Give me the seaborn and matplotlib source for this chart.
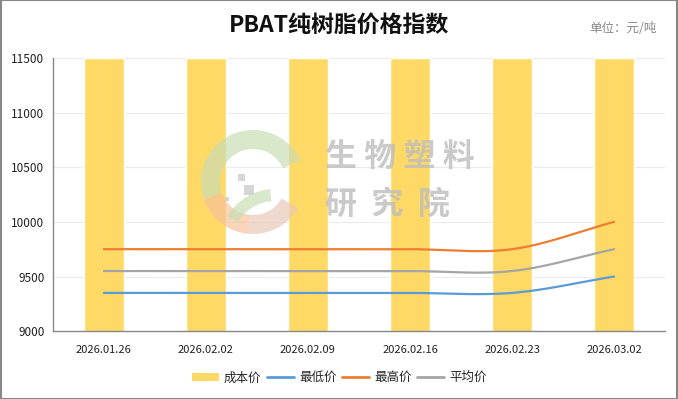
import numpy as np
import pandas as pd
import matplotlib
matplotlib.use("Agg")
import matplotlib.pyplot as plt
import seaborn as sns
from matplotlib.patches import Rectangle, Wedge, Patch
from matplotlib.lines import Line2D

sns.set_theme(style="white")
plt.rcParams['font.family'] = ['Noto Sans CJK SC', 'DejaVu Sans']

dates = ['2026.01.26', '2026.02.02', '2026.02.09', '2026.02.16', '2026.02.23', '2026.03.02']
cost_price = [11500, 11500, 11500, 11500, 11500, 11500]
low_price = [9350, 9350, 9350, 9350, 9350, 9500]
high_price = [9750, 9750, 9750, 9750, 9750, 10000]
avg_price = [9550, 9550, 9550, 9550, 9550, 9750]

bar_color = '#FFD966'
line_colors = {'最低价': '#5B9BD5', '最高价': '#ED7D31', '平均价': '#A5A5A5'}


def smooth(y, n=40):
    # cubic hermite (catmull-rom) through the points, like a smoothed line
    y = np.asarray(y, dtype=float)
    x = np.arange(len(y))
    m = np.gradient(y)
    xs, ys = [], []
    for i in range(len(y) - 1):
        t = np.linspace(0, 1, n)
        h00 = 2 * t**3 - 3 * t**2 + 1
        h10 = t**3 - 2 * t**2 + t
        h01 = -2 * t**3 + 3 * t**2
        h11 = t**3 - t**2
        xs.append(x[i] + t)
        ys.append(h00 * y[i] + h10 * m[i] + h01 * y[i + 1] + h11 * m[i + 1])
    return np.concatenate(xs), np.concatenate(ys)


df = pd.DataFrame({'日期': dates, '成本价': cost_price})

fig = plt.figure(figsize=(6.78, 3.99), dpi=100)
ax = fig.add_axes([0.078, 0.170, 0.903, 0.685])

sns.barplot(data=df, x='日期', y='成本价', color=bar_color, width=0.39,
            saturation=1, ax=ax, zorder=2)

for name, vals in [('最低价', low_price), ('最高价', high_price), ('平均价', avg_price)]:
    xs, ys = smooth(vals)
    ax.plot(xs, ys, color=line_colors[name], linewidth=1.6, zorder=4)

ax.set_ylim(9000, 11500)
ax.set_xlim(-0.5, len(dates) - 0.5)
ax.set_yticks(np.arange(9000, 11501, 500))
ax.set_xlabel('')
ax.set_ylabel('')
ax.yaxis.grid(True, color='#EBEBEB', linewidth=0.8, zorder=0)
ax.set_axisbelow(True)

ax.set_xticks(np.arange(len(dates)))
ax.set_xticklabels(dates, fontsize=8)
ax.set_xticks(np.arange(-0.5, len(dates)), minor=True)
ax.tick_params(axis='x', which='major', length=0, pad=10)
ax.tick_params(axis='x', which='minor', length=4, color='#888888', direction='out')
ax.tick_params(axis='y', length=4, color='#888888', direction='out', labelsize=8.5, pad=2)
for lab in ax.get_xticklabels() + ax.get_yticklabels():
    lab.set_color('#222222')

for side in ['top', 'right']:
    ax.spines[side].set_visible(False)
for side in ['left', 'bottom']:
    ax.spines[side].set_color('#888888')
    ax.spines[side].set_linewidth(1)

# watermark (logo ring + text), positions in inches
inch = fig.dpi_scale_trans
logo_c = (2.53, 2.17)
for t1, t2, col in [(25, 200, '#C9DDB4'), (200, 265, '#F6C29A'), (265, 330, '#E9C8B8')]:
    fig.patches.append(Wedge(logo_c, 0.52, t1, t2, width=0.19, transform=inch,
                             facecolor=col, edgecolor='none', alpha=0.7, zorder=3))
fig.patches.append(Wedge((2.75, 1.55), 0.55, 95, 150, width=0.12, transform=inch,
                         facecolor='#C9DDB4', edgecolor='none', alpha=0.7, zorder=3))
for (sx, sy, s) in [(2.38, 2.18, 0.07), (2.44, 2.04, 0.1), (2.25, 1.98, 0.04)]:
    fig.patches.append(Rectangle((sx, sy), s, s, transform=inch,
                                 facecolor='#CCCCCC', edgecolor='none', alpha=0.8, zorder=3))
fig.text(3.25 / 6.78, 1 - 1.57 / 3.99, '生 物 塑 料', fontsize=23, fontweight='bold',
         color='#BDBDBD', alpha=0.8, ha='left', va='center', zorder=3)
fig.text(3.25 / 6.78, 1 - 2.05 / 3.99, '研  究  院', fontsize=23, fontweight='bold',
         color='#BDBDBD', alpha=0.8, ha='left', va='center', zorder=3)

fig.text(0.5, 0.937, 'PBAT纯树脂价格指数', fontsize=16.5, fontweight='bold',
         color='#111111', ha='center', va='center')
fig.text(0.968, 0.928, '单位：元/吨', fontsize=9, color='#888888', ha='right', va='center')

handles = [Patch(facecolor=bar_color, edgecolor='none', label='成本价')]
for name in ['最低价', '最高价', '平均价']:
    handles.append(Line2D([0], [0], color=line_colors[name], linewidth=2, label=name))
fig.legend(handles=handles, loc='center', bbox_to_anchor=(0.5, 0.053), ncol=4,
           frameon=False, fontsize=9, handlelength=2.2, handletextpad=0.4,
           columnspacing=0.4)

fig.patches.append(Rectangle((0.001, 0.001), 0.998, 0.998, transform=fig.transFigure,
                             fill=False, edgecolor='#888888', linewidth=1.5, zorder=10))

fig.savefig('out.png', dpi=100)
